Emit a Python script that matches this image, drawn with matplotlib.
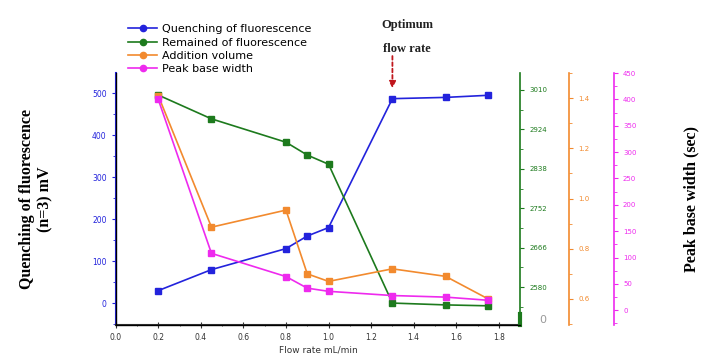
import numpy as np
import matplotlib.pyplot as plt
from matplotlib.ticker import MultipleLocator

# 流速与各指标数据
flow = [0.2, 0.45, 0.8, 0.9, 1.0, 1.3, 1.55, 1.75]
quench = [30, 80, 130, 160, 180, 487, 490, 495]
remained = [2999, 2947, 2896, 2868, 2848, 2545, 2541, 2539]
volume = [1.41, 0.886, 0.954, 0.70, 0.67, 0.72, 0.69, 0.60]
width = [400, 108, 64, 42, 36, 28, 25, 19]

x_ticks = [0.0, 0.2, 0.4, 0.6, 0.8, 1.0, 1.2, 1.4, 1.6, 1.8]
green_ticks = [2580, 2666, 2752, 2838, 2924, 3010]
orange_ticks = [0.6, 0.8, 1.0, 1.2, 1.4]
pink_ticks = [0, 50, 100, 150, 200, 250, 300, 350, 400, 450]

c_blue = '#2323dc'
c_green = '#1d7a1d'
c_orange = '#f28a2e'
c_pink = '#ee2aee'
c_axis = '#333333'

fig = plt.figure(figsize=(7.01, 3.58), dpi=100)
ax = fig.add_axes([0.165, 0.092, 0.577, 0.704])
ax2 = ax.twinx()
ax3 = ax.twinx()
ax4 = ax.twinx()
ax3.spines['right'].set_position(('axes', 1.121))
ax4.spines['right'].set_position(('axes', 1.232))

for a in (ax, ax2, ax3, ax4):
    a.spines['top'].set_visible(False)
    a.patch.set_visible(False)

ms = 4.5
l1, = ax.plot(flow, quench, '-s', color=c_blue, lw=1.2, ms=ms, label='Quenching of fluorescence')
l2, = ax2.plot(flow, remained, '-s', color=c_green, lw=1.2, ms=ms, label='Remained of fluorescence')
l3, = ax3.plot(flow, volume, '-s', color=c_orange, lw=1.2, ms=ms, label='Addition volume')
l4, = ax4.plot(flow, width, '-s', color=c_pink, lw=1.2, ms=ms, label='Peak base width')

# 主坐标轴
ax.set_xlim(0, 1.9)
ax.set_xticks(x_ticks)
ax.xaxis.set_minor_locator(MultipleLocator(0.1))
ax.set_ylim(-52, 548)
ax.set_yticks([0, 100, 200, 300, 400, 500])
ax.yaxis.set_minor_locator(MultipleLocator(50))
ax.spines['left'].set_color(c_blue)
ax.spines['left'].set_linewidth(1.5)
ax.spines['bottom'].set_color(c_axis)
ax.spines['bottom'].set_linewidth(1.5)
ax.spines['right'].set_visible(False)
ax.tick_params(axis='x', direction='inout', colors=c_axis, labelsize=5.5, length=4)
ax.tick_params(axis='x', which='minor', direction='inout', colors=c_axis, length=2)
ax.tick_params(axis='y', colors=c_blue, labelsize=5.5, length=3)
ax.tick_params(axis='y', which='minor', colors=c_blue, length=2)
ax.set_xlabel('Flow rate mL/min', fontsize=6.5, color=c_axis, labelpad=3)
ax.set_ylabel('Quenching of fluorescence\n(n=3) mV', family='Liberation Serif',
              fontweight='bold', fontsize=11.5, labelpad=28, linespacing=1.15)

# 右侧三个坐标轴
ax2.set_ylim(2497, 3047)
ax2.set_yticks(green_ticks)
ax2.yaxis.set_minor_locator(MultipleLocator(43))
ax2.spines['right'].set_color(c_green)
ax2.spines['right'].set_linewidth(1.2)
ax2.tick_params(axis='y', colors=c_green, labelsize=5, length=3)
ax2.tick_params(axis='y', which='minor', colors=c_green, length=2)
ax2.plot([1.0, 1.0], [0.0, 0.045], color=c_green, lw=3, transform=ax2.transAxes, clip_on=False)
ax2.text(1.055, 0.02, '0', transform=ax2.transAxes, fontsize=8, color='#999999', va='center', ha='center')

ax3.set_ylim(0.496, 1.5)
ax3.set_yticks(orange_ticks)
ax3.yaxis.set_minor_locator(MultipleLocator(0.1))
ax3.spines['right'].set_color(c_orange)
ax3.spines['right'].set_linewidth(1.2)
ax3.tick_params(axis='y', colors=c_orange, labelsize=5, length=3)
ax3.tick_params(axis='y', which='minor', colors=c_orange, length=2)

ax4.set_ylim(-28, 450)
ax4.set_yticks(pink_ticks)
ax4.yaxis.set_minor_locator(MultipleLocator(25))
ax4.spines['right'].set_color(c_pink)
ax4.spines['right'].set_linewidth(1.2)
ax4.tick_params(axis='y', colors=c_pink, labelsize=5, length=3)
ax4.tick_params(axis='y', which='minor', colors=c_pink, length=2)
ax4.set_ylabel('Peak base width (sec)', family='Liberation Serif',
               fontweight='bold', fontsize=11.5, labelpad=34)

# 最佳流速标注
fig.text(0.581, 0.93, 'Optimum', family='Liberation Serif', fontweight='bold',
         fontsize=9, ha='center', va='center', color='#222222')
fig.text(0.581, 0.862, 'flow rate', family='Liberation Serif', fontweight='bold',
         fontsize=9, ha='center', va='center', color='#222222')
ax.annotate('', xy=(1.3, 505), xytext=(1.3, 595),
            arrowprops=dict(arrowstyle='-|>', color='#c0161c', lw=1.3, ls=(0, (2, 1.5)),
                            mutation_scale=10), annotation_clip=False)

leg = fig.legend(handles=[l1, l2, l3, l4], loc='upper left', bbox_to_anchor=(0.175, 0.948),
                 frameon=False, fontsize=8, handlelength=2.6, handletextpad=0.4,
                 labelspacing=0.3, borderpad=0)
for h in leg.legend_handles:
    h.set_marker('o')

fig.savefig('out.png', dpi=100)
